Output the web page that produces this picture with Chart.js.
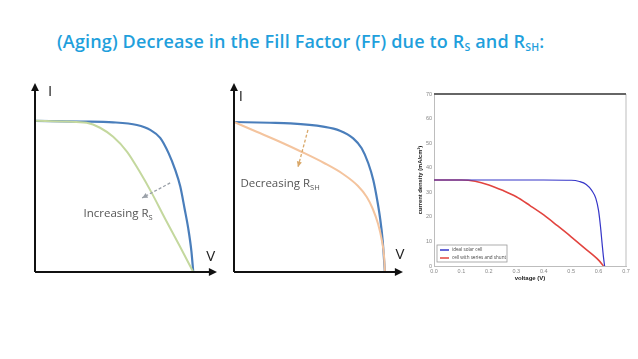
<!DOCTYPE html>
<html>
<head>
<meta charset="utf-8">
<script src="https://cdn.jsdelivr.net/npm/chart.js@4.4.0/dist/chart.umd.min.js"></script>
<style>
  body { margin: 0; background: #fff; width: 638px; height: 359px; overflow: hidden; position: relative; font-family: "Open Sans", sans-serif; }
  #title { position: absolute; left: 57px; top: 29px; color: #1fa0dc; font-size: 18px; font-weight: 600; white-space: nowrap; letter-spacing: 0.15px; }
  #title sub { font-size: 10.5px; vertical-align: -3px; }
  canvas { position: absolute; }
</style>
</head>
<body>
<div id="title">(Aging) Decrease in the Fill Factor (FF) due to R<sub>S</sub> and R<sub>SH</sub>:</div>
<canvas id="c1" width="210" height="210" style="left:20px;top:75px"></canvas>
<canvas id="c2" width="210" height="210" style="left:220px;top:75px"></canvas>
<canvas id="c3" width="228" height="200" style="left:410px;top:85px"></canvas>
<script>
// sketch 1: normalised V/Voc and I/Isc
const v1Ideal = [0, 0.285, 0.494, 0.644, 0.728, 0.791, 0.844, 0.886, 0.918, 0.945, 0.968, 0.988, 1.0];
const i1Ideal = [1.0, 0.995, 0.99, 0.972, 0.94, 0.887, 0.786, 0.675, 0.565, 0.42, 0.29, 0.14, 0];
const v1Rs = [0, 0.2, 0.327, 0.411, 0.494, 0.582, 0.658, 0.734, 0.823, 0.911, 1.0];
const i1Rs = [1.0, 0.995, 0.987, 0.954, 0.894, 0.795, 0.669, 0.53, 0.351, 0.179, 0];

// sketch 2
const v2Ideal = [0, 0.238, 0.371, 0.591, 0.702, 0.79, 0.846, 0.89, 0.923, 0.949, 0.968, 0.985, 1.0];
const i2Ideal = [1.0, 0.995, 0.991, 0.969, 0.942, 0.891, 0.825, 0.725, 0.613, 0.48, 0.36, 0.213, 0];
const v2Rsh = [0, 0.15, 0.3, 0.45, 0.6, 0.72, 0.82, 0.88, 0.92, 0.955, 0.98, 0.995, 1.0];
const i2Rsh = [1.0, 0.935, 0.87, 0.8, 0.725, 0.655, 0.575, 0.5, 0.42, 0.32, 0.21, 0.1, 0];

// simulated plot: voltage (V) vs current density (mA/cm2)
const vIdeal = [0, 0.1, 0.2, 0.3, 0.4, 0.5, 0.53, 0.555, 0.575, 0.59, 0.6, 0.607, 0.613, 0.618, 0.622];
const jIdeal = [35, 35, 35, 35, 35, 34.9, 34.4, 33.2, 30.8, 27.5, 22.5, 16, 9, 3.5, 0];
const vShunt = [0, 0.05, 0.1, 0.15, 0.2, 0.25, 0.3, 0.35, 0.4, 0.45, 0.5, 0.55, 0.6, 0.618];
const jShunt = [35, 35, 35, 34.5, 33, 30.8, 28.2, 24.6, 20.8, 16.4, 11.9, 7.2, 2.4, 0];
const seriesNames = ['ideal solar cell', 'cell with series and shunt'];
const xTicks = [0, 0.1, 0.2, 0.3, 0.4, 0.5, 0.6, 0.7];

const pts = (xs, ys) => xs.map((x, i) => ({ x, y: ys[i] }));

function arrowHead(ctx, x1, y1, x2, y2, size) {
  const a = Math.atan2(y2 - y1, x2 - x1);
  ctx.beginPath();
  ctx.moveTo(x2, y2);
  ctx.lineTo(x2 - size * Math.cos(a - 0.45), y2 - size * Math.sin(a - 0.45));
  ctx.lineTo(x2 - size * Math.cos(a + 0.45), y2 - size * Math.sin(a + 0.45));
  ctx.closePath();
  ctx.fill();
}

// axes with arrows, I / V letters and the dashed annotation arrow
const sketchAxes = {
  id: 'sketchAxes',
  afterDatasetsDraw(chart, args, o) {
    const { ctx, scales: { x, y } } = chart;
    const x0 = x.getPixelForValue(0), y0 = y.getPixelForValue(0);
    const xe = x.getPixelForValue(x.max), ye = y.getPixelForValue(y.max);
    ctx.save();
    ctx.strokeStyle = '#111'; ctx.fillStyle = '#111'; ctx.lineWidth = 2;
    ctx.beginPath();
    ctx.moveTo(x0, y0); ctx.lineTo(xe - 4, y0);
    ctx.moveTo(x0, y0); ctx.lineTo(x0, ye + 4);
    ctx.stroke();
    arrowHead(ctx, x0, y0, xe, y0, 9);
    arrowHead(ctx, x0, y0, x0, ye, 9);

    ctx.font = '15px "Open Sans", sans-serif';
    ctx.fillStyle = '#222';
    ctx.textAlign = 'center'; ctx.textBaseline = 'middle';
    ctx.fillText('I', x.getPixelForValue(o.iPos[0]), y.getPixelForValue(o.iPos[1]));
    ctx.fillText('V', x.getPixelForValue(o.vPos[0]), y.getPixelForValue(o.vPos[1]));

    // dashed arrow
    const ax1 = x.getPixelForValue(o.arrow[0]), ay1 = y.getPixelForValue(o.arrow[1]);
    const ax2 = x.getPixelForValue(o.arrow[2]), ay2 = y.getPixelForValue(o.arrow[3]);
    ctx.strokeStyle = o.arrowColor; ctx.fillStyle = o.arrowColor; ctx.lineWidth = 1.3;
    ctx.setLineDash([3, 2]);
    ctx.beginPath(); ctx.moveTo(ax1, ay1); ctx.lineTo(ax2, ay2); ctx.stroke();
    ctx.setLineDash([]);
    arrowHead(ctx, ax1, ay1, ax2, ay2, 6);

    // label with subscript
    ctx.fillStyle = '#555';
    ctx.textAlign = 'left'; ctx.textBaseline = 'alphabetic';
    ctx.font = '11.5px "Open Sans", sans-serif';
    const main = o.label[0], sub = o.label[1];
    const w = ctx.measureText(main).width;
    ctx.font = '7.5px "Open Sans", sans-serif';
    const ws = ctx.measureText(sub).width;
    const tx = x.getPixelForValue(o.labelPos[0]) - (w + ws) / 2, ty = y.getPixelForValue(o.labelPos[1]) + 4;
    ctx.font = '11.5px "Open Sans", sans-serif';
    ctx.fillText(main, tx, ty);
    ctx.font = '7.5px "Open Sans", sans-serif';
    ctx.fillText(sub, tx + w, ty + 3);
    ctx.restore();
  }
};

function sketch(id, data, xMax, yMax, pad, opts) {
  return new Chart(document.getElementById(id), {
    type: 'scatter',
    data: { datasets: data },
    options: {
      responsive: false,
      animation: false,
      layout: { padding: pad },
      elements: { point: { radius: 0 }, line: { cubicInterpolationMode: 'monotone' } },
      scales: {
        x: { type: 'linear', min: 0, max: xMax, display: false },
        y: { type: 'linear', min: 0, max: yMax, display: false }
      },
      plugins: { legend: { display: false }, tooltip: { enabled: false }, sketchAxes: opts }
    },
    plugins: [sketchAxes]
  });
}

sketch('c1', [
  { data: pts(v1Rs, i1Rs), showLine: true, borderColor: '#c4d89e', borderWidth: 2 },
  { data: pts(v1Ideal, i1Ideal), showLine: true, borderColor: '#4a7ebb', borderWidth: 2.2 }
], 1.15, 1.25, { left: 15, right: 13, top: 8, bottom: 13 }, {
  iPos: [0.095, 1.19], vPos: [1.11, 0.1],
  arrow: [0.854, 0.589, 0.677, 0.49], arrowColor: '#9aa0a8',
  label: ['Increasing R', 'S'], labelPos: [0.525, 0.39]
});

sketch('c2', [
  { data: pts(v2Rsh, i2Rsh), showLine: true, borderColor: '#f4c49e', borderWidth: 2 },
  { data: pts(v2Ideal, i2Ideal), showLine: true, borderColor: '#4a7ebb', borderWidth: 2.2 }
], 1.12, 1.26, { left: 14, right: 27, top: 8, bottom: 13 }, {
  iPos: [0.046, 1.167], vPos: [1.1, 0.113],
  arrow: [0.49, 0.947, 0.424, 0.7], arrowColor: '#d9a86a',
  label: ['Decreasing R', 'SH'], labelPos: [0.305, 0.593]
});

// frame and legend for the simulated plot
const plotFrame = {
  id: 'plotFrame',
  afterDatasetsDraw(chart) {
    const { ctx, chartArea: a } = chart;
    ctx.save();
    ctx.strokeStyle = '#bdbdbd'; ctx.lineWidth = 1;
    ctx.beginPath(); ctx.moveTo(a.right, a.top); ctx.lineTo(a.right, a.bottom); ctx.stroke();
    ctx.strokeStyle = '#666'; ctx.lineWidth = 2;
    ctx.beginPath(); ctx.moveTo(a.left, a.top); ctx.lineTo(a.right, a.top); ctx.stroke();
    // legend box
    const lx = a.left + 3, ly = a.bottom - 21, lw = 70, lh = 17;
    ctx.fillStyle = '#fff'; ctx.fillRect(lx, ly, lw, lh);
    ctx.strokeStyle = '#999'; ctx.lineWidth = 0.8; ctx.strokeRect(lx, ly, lw, lh);
    ctx.font = '4.6px "Open Sans", sans-serif'; ctx.textBaseline = 'middle';
    chart.data.datasets.forEach((ds, i) => {
      const yy = ly + 5 + i * 8;
      ctx.strokeStyle = ds.borderColor; ctx.lineWidth = 1.5;
      ctx.beginPath(); ctx.moveTo(lx + 3, yy); ctx.lineTo(lx + 12, yy); ctx.stroke();
      ctx.fillStyle = '#444'; ctx.fillText(ds.label, lx + 15, yy);
    });
    ctx.restore();
  }
};

new Chart(document.getElementById('c3'), {
  type: 'scatter',
  data: {
    datasets: [
      { label: seriesNames[0], data: pts(vIdeal, jIdeal), showLine: true, borderColor: '#3535c8', borderWidth: 1.2 },
      { label: seriesNames[1], data: pts(vShunt, jShunt), showLine: true, borderColor: '#e2443f', borderWidth: 1.6 }
    ]
  },
  options: {
    responsive: false,
    animation: false,
    layout: { padding: { left: 0, right: 12, top: 9, bottom: 0 } },
    elements: { point: { radius: 0 }, line: { cubicInterpolationMode: 'monotone' } },
    scales: {
      x: {
        type: 'linear', min: 0, max: 0.7,
        afterBuildTicks: s => { s.ticks = xTicks.map(v => ({ value: v })); },
        afterFit: s => { s.height = 19; },
        grid: { display: false, drawTicks: false },
        border: { color: '#bdbdbd' },
        ticks: { font: { size: 5.5 }, color: '#888', padding: 2, callback: v => v.toFixed(1), maxRotation: 0 },
        title: { display: true, text: 'voltage (V)', font: { size: 6, weight: 'bold' }, color: '#222', padding: { top: 0, bottom: 3 } }
      },
      y: {
        type: 'linear', min: 0, max: 70,
        afterFit: s => { s.width = 24; },
        grid: { display: false, drawTicks: false },
        border: { color: '#bdbdbd' },
        ticks: { stepSize: 10, font: { size: 5.5 }, color: '#888', padding: 2 },
        title: { display: true, text: 'current density (mA/cm²)', font: { size: 5.8, weight: 'bold' }, color: '#222', padding: { top: 7, bottom: 0 } }
      }
    },
    plugins: { legend: { display: false }, tooltip: { enabled: false } }
  },
  plugins: [plotFrame]
});
</script>
</body>
</html>
